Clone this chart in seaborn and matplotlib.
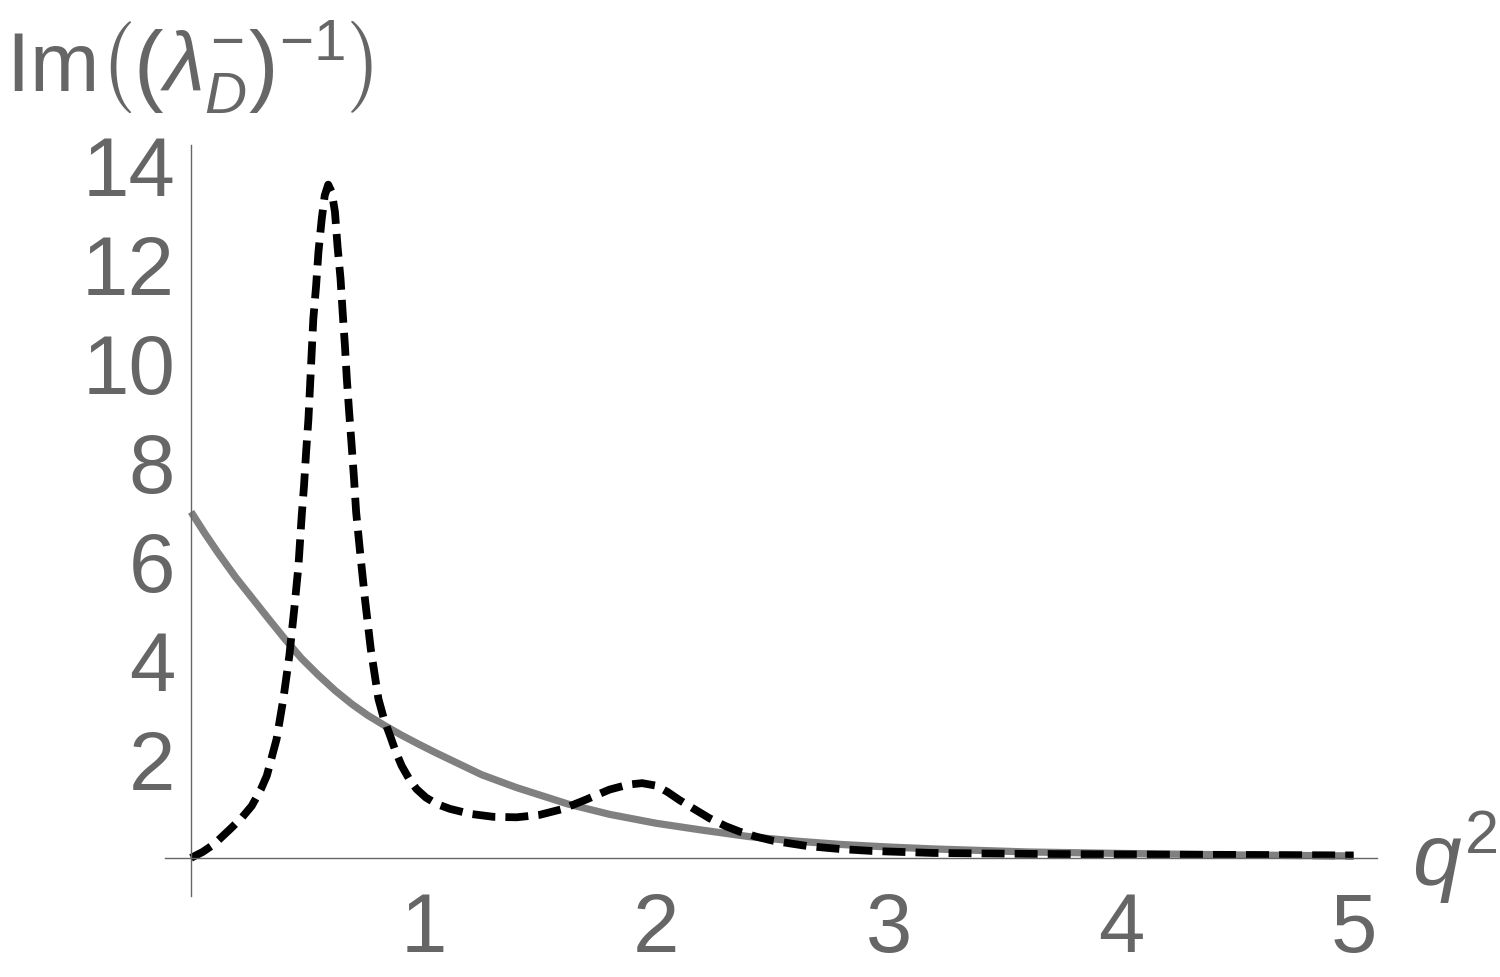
import seaborn as sns
import matplotlib.pyplot as plt
from matplotlib.ticker import MultipleLocator
import pandas as pd

# values
q_gray = [0, 0.06, 0.118, 0.19, 0.261, 0.33, 0.404, 0.475, 0.548, 0.62, 0.691,
          0.76, 0.834, 0.905, 0.978, 1.05, 1.121, 1.25, 1.4, 1.62, 1.8, 2.0,
          2.2, 2.4, 2.6, 2.8, 3.0, 3.2, 3.6, 4.0, 4.5, 5.0]
im_gray = [6.99, 6.55, 6.15, 5.68, 5.26, 4.85, 4.42, 4.03, 3.69, 3.38, 3.11,
           2.88, 2.67, 2.48, 2.3, 2.13, 1.97, 1.68, 1.42, 1.09, 0.88, 0.7,
           0.56, 0.43, 0.34, 0.27, 0.22, 0.18, 0.12, 0.09, 0.06, 0.04]

q_dash = [0, 0.05, 0.1, 0.17, 0.22, 0.261, 0.3, 0.326, 0.368, 0.397, 0.423, 0.444,
          0.462, 0.476, 0.486, 0.495, 0.505, 0.512, 0.519, 0.526, 0.538, 0.548,
          0.562, 0.575, 0.59, 0.605, 0.619, 0.63, 0.643, 0.652, 0.662, 0.67, 0.68,
          0.691, 0.701, 0.71, 0.727, 0.748, 0.773, 0.806, 0.83, 0.856, 0.88, 0.906,
          0.94, 0.97, 1.01, 1.056, 1.114, 1.2, 1.3, 1.4, 1.5, 1.6, 1.7, 1.8, 1.88,
          1.94, 2.0, 2.05, 2.1, 2.17, 2.23, 2.3, 2.36, 2.43, 2.5, 2.58, 2.65, 2.79,
          2.93, 3.19, 3.62, 4.0, 4.5, 5.0]
im_dash = [0, 0.12, 0.28, 0.59, 0.82, 1.05, 1.38, 1.66, 2.4, 3.21, 4.09, 5.03,
           5.9, 6.91, 7.52, 8.2, 8.87, 9.54, 10.22, 10.89, 11.56, 12.24,
           12.9, 13.38, 13.6, 13.45, 13.05, 12.36, 11.7, 11.03, 10.34, 9.68, 9.01,
           8.32, 7.66, 6.99, 6.18, 5.23, 4.22, 3.21, 2.8, 2.47, 2.15, 1.86,
           1.58, 1.39, 1.22, 1.09, 0.99, 0.89, 0.83, 0.82, 0.87, 0.99, 1.18, 1.38, 1.48,
           1.51, 1.46, 1.33, 1.17, 0.97, 0.8, 0.64, 0.53, 0.43, 0.35, 0.29, 0.24, 0.18,
           0.14, 0.1, 0.08, 0.07, 0.06, 0.05]

x_ticks = [1, 2, 3, 4, 5]
y_ticks = [2, 4, 6, 8, 10, 12, 14]

gray_df = pd.DataFrame({"q2": q_gray, "im": im_gray})
dash_df = pd.DataFrame({"q2": q_dash, "im": im_dash})

sns.set_theme(style="white")
plt.rcParams['font.family'] = ['Liberation Sans', 'DejaVu Sans']
plt.rcParams['mathtext.fontset'] = 'custom'
plt.rcParams['mathtext.rm'] = 'Liberation Sans'
plt.rcParams['mathtext.it'] = 'Liberation Sans:italic'

txt = '#666666'
fig = plt.figure(figsize=(15, 9.78), dpi=100)
ax = fig.add_axes([0.1103, 0.0828, 0.8076, 0.7679])

sns.lineplot(data=gray_df, x="q2", y="im", color='#808080',
             estimator=None, sort=False, ax=ax)
ax.lines[-1].set_linewidth(5.2)
ax.lines[-1].set_solid_capstyle('butt')
sns.lineplot(data=dash_df, x="q2", y="im", color='black',
             estimator=None, sort=False, ax=ax)
ax.lines[-1].set_linewidth(5.6)
ax.lines[-1].set_dashes((2.95, 1.3))
ax.lines[-1].set_dash_capstyle('butt')

ax.set_xlim(-0.11, 5.1)
ax.set_ylim(-0.77, 14.4)
for s in ['top', 'right']:
    ax.spines[s].set_visible(False)
for s in ['left', 'bottom']:
    ax.spines[s].set_position(('data', 0))
    ax.spines[s].set_color(txt)
    ax.spines[s].set_linewidth(1)

ax.set_xticks(x_ticks)
ax.set_yticks(y_ticks)
ax.xaxis.set_minor_locator(MultipleLocator(0.2))
ax.yaxis.set_minor_locator(MultipleLocator(0.5))
ax.tick_params(which='both', direction='in', color=txt, width=0.8,
               labelsize=60, labelcolor=txt)
ax.tick_params(which='major', length=3.3)
ax.tick_params(which='minor', length=2.2)
ax.tick_params(axis='x', which='major', pad=23)
ax.tick_params(axis='y', which='major', pad=11.5)
ax.set_xlabel("")
ax.set_ylabel("")

fig.text(6 / 1500, 1 - 92 / 978,
         r"$\mathrm{Im}\left(\left(\lambda_{D}^{-}\right)^{-1}\right)$",
         ha='left', va='baseline', fontsize=60, color=txt)
fig.text(1412 / 1500, 1 - 886 / 978, r"$q^2$",
         ha='left', va='baseline', fontsize=63, color=txt)

fig.savefig("out.png", dpi=100)
